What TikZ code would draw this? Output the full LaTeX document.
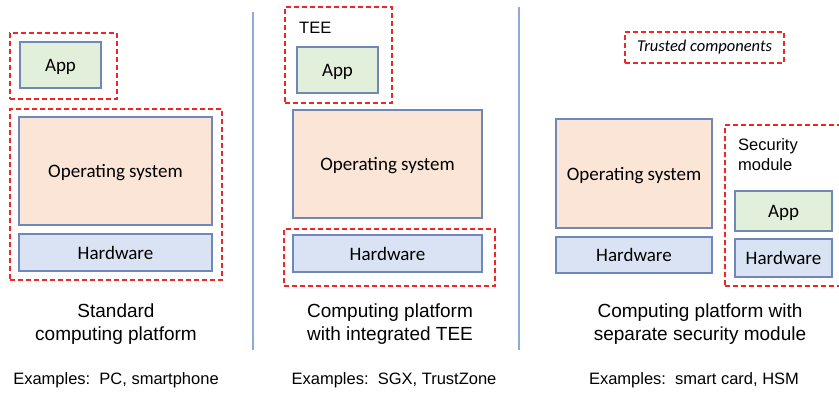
\documentclass[tikz,border=0pt]{standalone}
\usepackage{fontspec}
\setmainfont{Carlito}
\newfontfamily\arialf{Liberation Sans}
\definecolor{boxborder}{RGB}{112,136,184}
\definecolor{appfill}{RGB}{226,239,218}
\definecolor{osfill}{RGB}{251,229,214}
\definecolor{hwfill}{RGB}{218,227,243}
\definecolor{trustred}{RGB}{238,40,40}
\definecolor{sepblue}{RGB}{142,169,219}
\begin{document}
\begin{tikzpicture}[x=1pt,y=-1pt,
  layerbox/.style={draw=boxborder, line width=1.2pt, inner sep=0pt, text depth=0pt, font=\fontsize{19}{22}\selectfont},
  appbox/.style={layerbox, fill=appfill},
  osbox/.style={layerbox, fill=osfill},
  hwbox/.style={layerbox, fill=hwfill},
  trustbox/.style={draw=trustred, line width=1.5pt, dash pattern=on 5pt off 3pt, inner sep=0pt},
  sepline/.style={draw=sepblue, line width=1.4pt},
  title/.style={font=\arialf\fontsize{19}{22.5}\selectfont, align=center},
  examples/.style={font=\arialf\fontsize{16.5}{20}\selectfont},
  label/.style={font=\arialf\fontsize{16.5}{20}\selectfont, align=left, inner sep=0pt}
]
\useasboundingbox (0,0) rectangle (839,392);

% separators
\coordinate (s1t) at (253,12); \coordinate (s1b) at (253,350);
\coordinate (s2t) at (519,7); \coordinate (s2b) at (519,350);
\draw[sepline] (s1t) -- (s1b);
\draw[sepline] (s2t) -- (s2b);

% left column
\node[trustbox, minimum width=107, minimum height=66] (tAppL) at (63.5,66) {};
\node[trustbox, minimum width=212, minimum height=171] (tAllL) at (116,194.5) {};
\node[appbox, minimum width=81, minimum height=46] (appL) at (60.5,65) {App};
\node[osbox, minimum width=193, minimum height=108] (osL) at (115.5,171) {Operating system};
\node[hwbox, minimum width=193, minimum height=37] (hwL) at (115.5,252.5) {Hardware};

% middle column
\node[trustbox, minimum width=107, minimum height=96] (tTee) at (338.5,55) {};
\node[label, anchor=west] (teeLbl) at (299,28) {TEE};
\node[appbox, minimum width=81, minimum height=46] (appM) at (337.5,70) {App};
\node[osbox, minimum width=189, minimum height=108] (osM) at (387.5,164) {Operating system};
\node[trustbox, minimum width=211, minimum height=57] (tHwM) at (389.5,257.5) {};
\node[hwbox, minimum width=189, minimum height=37] (hwM) at (387.5,253.5) {Hardware};

% right column
\node[trustbox, minimum width=159, minimum height=31, font=\itshape\fontsize{16.5}{20}\selectfont] (legend) at (704.5,47.5) {Trusted components};
\node[osbox, minimum width=156, minimum height=109] (osR) at (634,173.5) {Operating system};
\node[hwbox, minimum width=156, minimum height=36] (hwR) at (634,255) {Hardware};
\node[trustbox, minimum width=118, minimum height=161] (tSM) at (784,205.5) {};
\node[label, anchor=north west] (smLbl) at (738,138) {Security\\module};
\node[appbox, minimum width=97, minimum height=40] (appR) at (783.5,211) {App};
\node[hwbox, minimum width=97, minimum height=38] (hwR2) at (783.5,258) {Hardware};

% titles
\node[title] (titL) at (116,324) {Standard\\computing platform};
\node[title] (titM) at (390,324) {Computing platform\\with integrated TEE};
\node[title] (titR) at (700,324) {Computing platform with\\separate security module};

% examples
\node[examples] (exL) at (116,380) {Examples:\ \ PC, smartphone};
\node[examples] (exM) at (394,380) {Examples:\ \ SGX, TrustZone};
\node[examples] (exR) at (694,380) {Examples:\ \ smart card, HSM};
\end{tikzpicture}
\end{document}
